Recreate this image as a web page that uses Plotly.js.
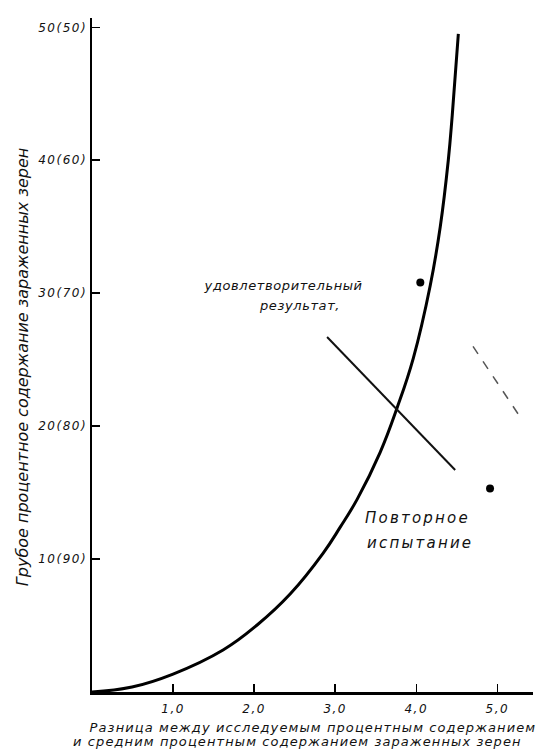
<!DOCTYPE html>
<html>
<head>
<meta charset="utf-8">
<script src="https://cdn.plot.ly/plotly-3.0.1.min.js"></script>
<style>
html,body{margin:0;padding:0;background:#fff;}
#chart{width:552px;height:751px;}
#chart .xtick text, #chart .ytick text {letter-spacing:1.5px;}
#chart g.annotation[data-index="0"] text, #chart g.annotation[data-index="1"] text {letter-spacing:0.6px;}
#chart g.annotation[data-index="2"] text, #chart g.annotation[data-index="3"] text {letter-spacing:2.2px;}
#chart g.annotation[data-index="5"] text, #chart g.annotation[data-index="6"] text {letter-spacing:1.1px;}
</style>
</head>
<body>
<div id="chart"></div>
<script>
// Curve: difference (x) vs rough percentage of infected grains (y)
const curveX = [0, 0.494, 1.0, 1.617, 2.037, 2.444, 2.852, 3.062, 3.272, 3.556, 3.765, 3.963, 4.173, 4.296, 4.395, 4.444, 4.519];
const curveY = [0, 0.376, 1.35, 3.16, 5.04, 7.37, 10.45, 12.4, 14.51, 18.05, 21.4, 25.1, 30.6, 35.0, 40.0, 43.4, 49.5];

// Leader line toward "удовлетворительный результат"
const leaderX = [2.90, 4.48];
const leaderY = [26.7, 16.7];

// Faint dashed line at right
const dashX = [4.70, 5.28];
const dashY = [26.0, 20.7];

// Isolated marks
const markX = [4.05, 4.91];
const markY = [30.8, 15.3];

const tickVals = [10, 20, 30, 40, 50];
const tickText = ["10(90)", "20(80)", "30(70)", "40(60)", "50(50)"];
const xTickVals = [1, 2, 3, 4, 5];
const xTickText = ["1,0", "2,0", "3,0", "4,0", "5,0"];

const ink = "#111";
const f = (size) => ({family: "DejaVu Sans", size: size, color: ink, style: "italic"});

const traces = [
  {x: curveX, y: curveY, mode: "lines", line: {color: "#000", width: 3, shape: "spline", smoothing: 1.2}, hoverinfo: "skip"},
  {x: leaderX, y: leaderY, mode: "lines", line: {color: ink, width: 2}, hoverinfo: "skip"},
  {x: dashX, y: dashY, mode: "lines", line: {color: "#555", width: 1.5, dash: "dash"}, hoverinfo: "skip"},
  {x: markX, y: markY, mode: "markers", marker: {color: "#000", size: 8}, hoverinfo: "skip"}
];

const layout = {
  width: 552, height: 751,
  margin: {l: 92, r: 19, t: 18, b: 59},
  paper_bgcolor: "#fff", plot_bgcolor: "#fff",
  showlegend: false,
  xaxis: {
    range: [0, 5.44], showgrid: false, zeroline: false,
    showline: true, linecolor: "#000", linewidth: 2.5,
    tickmode: "array", tickvals: xTickVals, ticktext: xTickText,
    ticks: "inside", ticklen: 8, tickwidth: 1.5, tickcolor: "#000",
    ticklabelstandoff: 4,
    tickfont: f(12)
  },
  yaxis: {
    range: [0, 50.7], showgrid: false, zeroline: false,
    showline: true, linecolor: "#000", linewidth: 2.5,
    tickmode: "array", tickvals: tickVals, ticktext: tickText,
    ticks: "inside", ticklen: 8, tickwidth: 1.5, tickcolor: "#000",
    tickfont: f(12)
  },
  annotations: [
    {xref: "x", yref: "y", x: 2.36, y: 30.6, xanchor: "center", yanchor: "middle", text: "удовлетворительный", showarrow: false, font: f(13)},
    {xref: "x", yref: "y", x: 2.56, y: 29.1, xanchor: "center", yanchor: "middle", text: "результат,", showarrow: false, font: f(13)},
    {xref: "x", yref: "y", x: 4.01, y: 13.1, xanchor: "center", yanchor: "middle", text: "Повторное", showarrow: false, font: f(15)},
    {xref: "x", yref: "y", x: 4.05, y: 11.2, xanchor: "center", yanchor: "middle", text: "испытание", showarrow: false, font: f(15)},
    {xref: "paper", yref: "paper", x: 0, xshift: -70, y: 0.482, xanchor: "center", yanchor: "middle", textangle: -90,
     text: "Грубое процентное содержание зараженных зерен", showarrow: false, font: f(16)},
    {xref: "paper", yref: "paper", x: 0.50, y: 0, yshift: -35, xanchor: "center", yanchor: "middle",
     text: "Разница между исследуемым процентным содержанием", showarrow: false, font: f(13)},
    {xref: "paper", yref: "paper", x: 0.465, y: 0, yshift: -49, xanchor: "center", yanchor: "middle",
     text: "и средним процентным содержанием зараженных зерен", showarrow: false, font: f(13)}
  ]
};

Plotly.newPlot("chart", traces, layout, {staticPlot: true, displayModeBar: false});
</script>
</body>
</html>
